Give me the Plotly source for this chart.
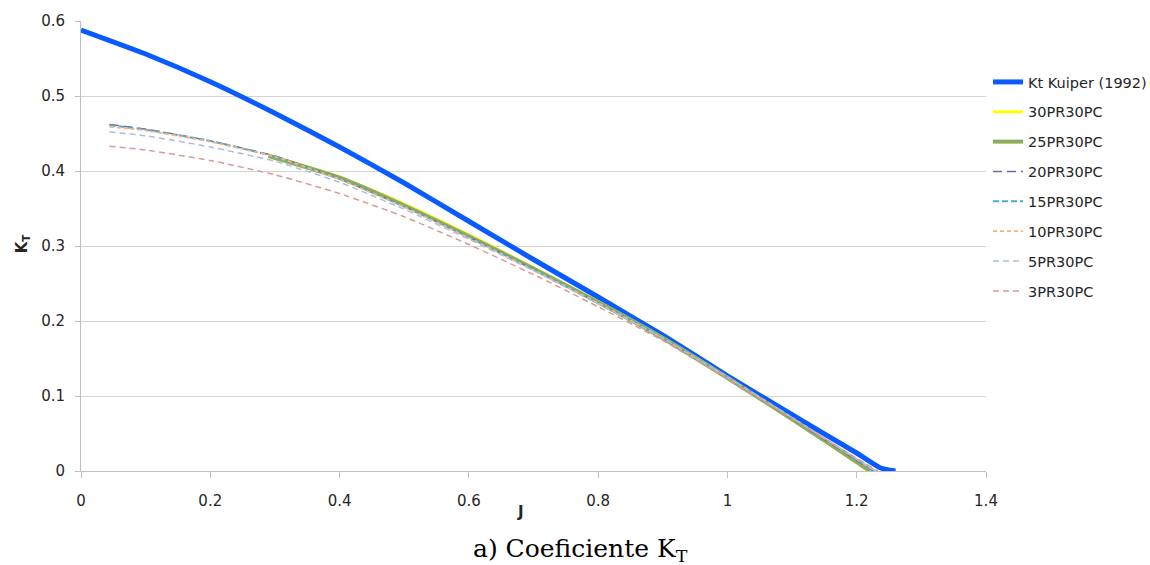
import plotly.graph_objects as go

# ---------------- data ----------------
J_kuiper = [0.0, 0.1, 0.2, 0.3, 0.4, 0.5, 0.6, 0.7, 0.8, 0.9, 1.0, 1.1, 1.2, 1.237, 1.26]
KT_kuiper = [0.588, 0.556, 0.519, 0.477, 0.432, 0.384, 0.333, 0.282, 0.232, 0.181, 0.127, 0.075, 0.024, 0.004, 0.0]

J_30 = [0.29, 0.4, 0.5, 0.6, 0.7, 0.8, 0.9, 1.0, 1.1, 1.2, 1.218]
KT_30 = [0.421, 0.392, 0.356, 0.315, 0.271, 0.226, 0.178, 0.125, 0.069, 0.011, 0.0]

J_25 = [0.29, 0.4, 0.5, 0.6, 0.7, 0.8, 0.9, 1.0, 1.1, 1.2, 1.22]
KT_25 = [0.420, 0.391, 0.354, 0.313, 0.270, 0.225, 0.177, 0.124, 0.069, 0.012, 0.0]

J_20 = [0.044, 0.1, 0.2, 0.3, 0.4, 0.5, 0.6, 0.7, 0.8, 0.9, 1.0, 1.1, 1.2, 1.225]
KT_20 = [0.462, 0.456, 0.440, 0.420, 0.390, 0.353, 0.312, 0.269, 0.224, 0.177, 0.125, 0.070, 0.014, 0.0]

J_15 = [0.044, 0.1, 0.2, 0.3, 0.4, 0.5, 0.6, 0.7, 0.8, 0.9, 1.0, 1.1, 1.2, 1.226]
KT_15 = [0.461, 0.455, 0.440, 0.419, 0.390, 0.353, 0.312, 0.269, 0.224, 0.177, 0.125, 0.071, 0.015, 0.0]

J_10 = [0.044, 0.1, 0.2, 0.3, 0.4, 0.5, 0.6, 0.7, 0.8, 0.9, 1.0, 1.1, 1.2, 1.228]
KT_10 = [0.459, 0.454, 0.439, 0.419, 0.389, 0.352, 0.311, 0.268, 0.224, 0.177, 0.125, 0.071, 0.016, 0.0]

J_5 = [0.044, 0.1, 0.2, 0.3, 0.4, 0.5, 0.6, 0.7, 0.8, 0.9, 1.0, 1.1, 1.2, 1.23]
KT_5 = [0.452, 0.447, 0.432, 0.413, 0.385, 0.349, 0.309, 0.267, 0.223, 0.177, 0.125, 0.071, 0.016, 0.0]

J_3 = [0.044, 0.1, 0.2, 0.3, 0.4, 0.5, 0.6, 0.7, 0.8, 0.9, 1.0, 1.1, 1.2, 1.233]
KT_3 = [0.433, 0.428, 0.414, 0.395, 0.370, 0.339, 0.302, 0.262, 0.219, 0.174, 0.123, 0.070, 0.017, 0.0]

x_ticks = [0, 0.2, 0.4, 0.6, 0.8, 1, 1.2, 1.4]
x_tick_labels = ["0", "0.2", "0.4", "0.6", "0.8", "1", "1.2", "1.4"]
y_ticks = [0, 0.1, 0.2, 0.3, 0.4, 0.5, 0.6]
y_tick_labels = ["0", "0.1", "0.2", "0.3", "0.4", "0.5", "0.6"]

series = [
    ("Kt Kuiper (1992)", J_kuiper, KT_kuiper, "#0A5BFF", 5, "solid"),
    ("30PR30PC", J_30, KT_30, "#FFFF00", 3, "solid"),
    ("25PR30PC", J_25, KT_25, "#8FAE5B", 4, "solid"),
    ("20PR30PC", J_20, KT_20, "#7F63A1", 1.5, "9px,5px"),
    ("15PR30PC", J_15, KT_15, "#4BACC6", 2, "6px,3px"),
    ("10PR30PC", J_10, KT_10, "#F7B47F", 1.8, "4px,3px"),
    ("5PR30PC", J_5, KT_5, "#A9BEDD", 1.5, "6px,4px"),
    ("3PR30PC", J_3, KT_3, "#D99A98", 1.5, "6px,4px"),
]

FONT = "DejaVu Sans"
TXT = "#262626"

fig = go.Figure()
for i, (name, xs, ys, color, width, dash) in enumerate(series):
    fig.add_trace(go.Scatter(
        x=xs, y=ys, mode="lines", name=name,
        line=dict(color=color, width=width, dash=dash, shape="spline", smoothing=0.5),
        legendgroup=f"g{i}",
    ))

fig.update_layout(
    width=1150, height=565,
    margin=dict(l=81, r=164, t=21, b=94, autoexpand=False),
    paper_bgcolor="white", plot_bgcolor="white",
    font=dict(family=FONT, size=15, color=TXT),
    showlegend=True,
    legend=dict(
        x=(988 - 81) / 905, y=0.90, xanchor="left", yanchor="top",
        font=dict(family=FONT, size=14.5, color=TXT),
        traceorder="grouped", tracegroupgap=8,
        bgcolor="rgba(0,0,0,0)", itemwidth=30,
    ),
    xaxis=dict(
        range=[0, 1.4], tickvals=x_ticks, ticktext=x_tick_labels,
        showgrid=False, zeroline=False,
        showline=True, linecolor="#BFBFBF", linewidth=1,
        ticks="outside", ticklen=6, tickcolor="#BFBFBF",
        ticklabelstandoff=10,
        tickfont=dict(family=FONT, size=15, color=TXT),
    ),
    yaxis=dict(
        range=[0, 0.6], tickvals=y_ticks, ticktext=y_tick_labels,
        showgrid=True, gridcolor="#D4D4D4", gridwidth=1,
        zeroline=False,
        showline=True, linecolor="#BFBFBF", linewidth=1,
        ticks="outside", ticklen=5, tickcolor="#BFBFBF",
        ticklabelstandoff=7,
        tickfont=dict(family=FONT, size=15, color=TXT),
    ),
    annotations=[
        dict(text="<b>J</b>", xref="paper", yref="paper", x=(520 - 81) / 905, y=(470.7 - 512) / 450,
             showarrow=False, xanchor="center", yanchor="middle",
             font=dict(family=FONT, size=15, color=TXT)),
        dict(text="<b>K<sub>T</sub></b>", xref="paper", yref="paper", x=(22 - 81) / 905, y=(470.7 - 243) / 450,
             showarrow=False, xanchor="center", yanchor="middle", textangle=-90,
             font=dict(family=FONT, size=15, color=TXT)),
        dict(text="a) Coeficiente K<sub>T</sub>", xref="paper", yref="paper", x=(580 - 81) / 905, y=(470.7 - 550) / 450,
             showarrow=False, xanchor="center", yanchor="middle",
             font=dict(family="DejaVu Serif", size=25, color="#000000")),
    ],
)

fig.write_html("out.html")
